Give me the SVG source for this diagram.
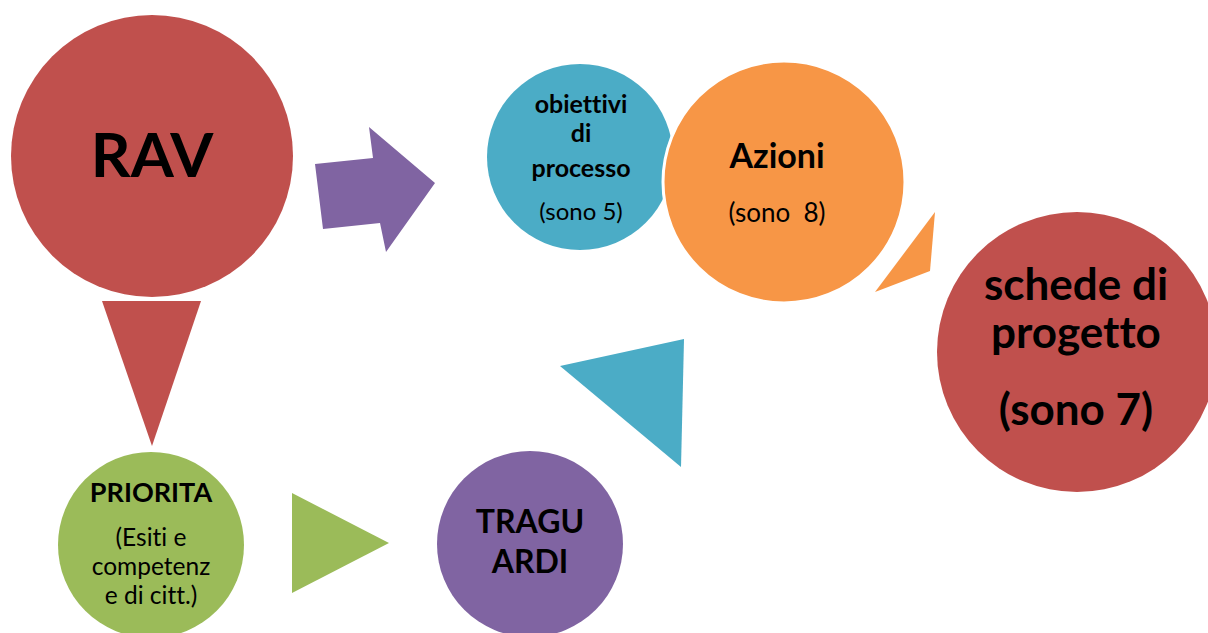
<svg xmlns="http://www.w3.org/2000/svg" width="1208" height="633" viewBox="0 0 1208 633">
<style>
.red{fill:#C0504D}.purple{fill:#8064A2}.green{fill:#9BBB59}.teal{fill:#4BACC6}.orange{fill:#F79646}
text{font-family:Lato,"Open Sans","DejaVu Sans",sans-serif;fill:#000;text-anchor:middle;font-variant-ligatures:none}
.b{font-weight:bold}
</style>
<rect width="1208" height="633" fill="#fff"/>
<g id="connectors">
<polygon class="purple" points="315,164 373,158 369,127 435,183 386,252 380,223 323,229"/>
<polygon class="red" points="102,301 201,301 152,446"/>
<polygon class="green" points="292,493 292,593 389,543"/>
<polygon class="teal" points="560,366 684,339 681,467"/>
<polygon class="orange" points="935,212 930,271 875,292"/>
</g>
<g id="rav">
<circle class="red" cx="152" cy="156" r="141"/>
<text class="b" x="152" y="177" font-size="62">RAV</text>
</g>
<g id="priorita">
<circle class="green" cx="151" cy="545" r="93"/>
<text class="b" x="151" y="502" font-size="27">PRIORITA</text>
<text x="151" y="546" font-size="24.5">(Esiti e</text>
<text x="151" y="575" font-size="24.5">competenz</text>
<text x="151" y="604" font-size="24.5">e di citt.)</text>
</g>
<g id="traguardi">
<circle class="purple" cx="530" cy="544" r="93"/>
<text class="b" x="530" y="533" font-size="32">TRAGU</text>
<text class="b" x="530" y="573" font-size="32">ARDI</text>
</g>
<g id="obiettivi">
<circle class="teal" cx="580" cy="157" r="93"/>
<text class="b" x="581" y="113" font-size="25">obiettivi</text>
<text class="b" x="581" y="142" font-size="25">di</text>
<text class="b" x="581" y="177" font-size="25">processo</text>
<text x="581" y="220" font-size="24">(sono 5)</text>
</g>
<g id="azioni">
<circle class="orange" cx="784" cy="182" r="121" stroke="#fff" stroke-width="3"/>
<text class="b" x="777" y="168" font-size="34">Azioni</text>
<text x="777" y="222" font-size="26" xml:space="preserve">(sono  8)</text>
</g>
<g id="schede">
<circle class="red" cx="1077" cy="352" r="140"/>
<text class="b" x="1076" y="300" font-size="44">schede di</text>
<text class="b" x="1076" y="348" font-size="44">progetto</text>
<text class="b" x="1076" y="425" font-size="44">(sono 7)</text>
</g>
</svg>
